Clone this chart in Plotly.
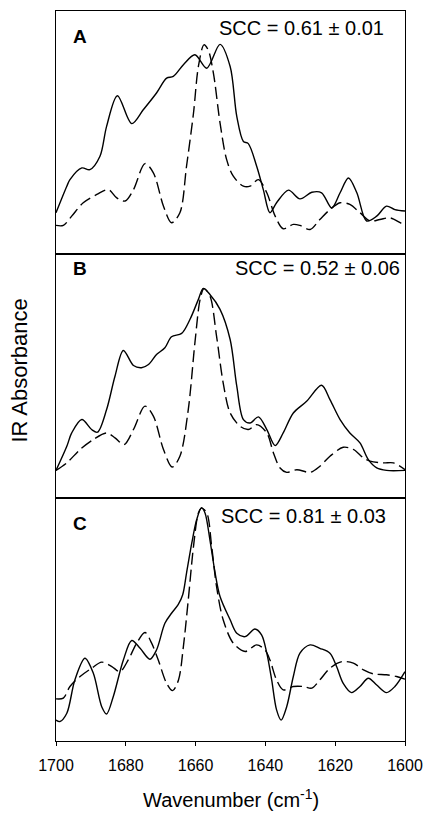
import plotly.graph_objects as go
from plotly.subplots import make_subplots

# ---- data (wavenumber in cm^-1, absorbance normalised per panel) ----
wn_a_solid = [1700.0, 1696.9, 1696.0, 1692.6, 1690.3, 1687.4, 1685.5, 1682.4, 1678.3, 1675.0, 1671.2, 1668.3, 1666.4,
              1663.5, 1660.2, 1656.8, 1653.0, 1650.1, 1648.2, 1646.3, 1644.9, 1642.5, 1640.6, 1638.7, 1636.8, 1633.4,
              1630.1, 1626.7, 1623.9, 1621.0, 1618.6, 1616.2, 1613.8, 1611.0, 1608.1, 1605.3, 1602.9, 1600.0]
abs_a_solid = [0.171, 0.280, 0.307, 0.355, 0.348, 0.403, 0.526, 0.652, 0.537, 0.594, 0.663, 0.724, 0.731, 0.779,
               0.820, 0.765, 0.863, 0.772, 0.567, 0.464, 0.455, 0.362, 0.266, 0.171, 0.212, 0.264, 0.228, 0.255,
               0.253, 0.191, 0.253, 0.314, 0.253, 0.137, 0.157, 0.198, 0.184, 0.178]

wn_a_dash = [1700.0, 1697.9, 1695.5, 1692.2, 1688.3, 1685.0, 1682.6, 1680.2, 1677.8, 1674.5, 1672.1, 1669.2, 1666.9,
             1664.5, 1662.6, 1660.6, 1659.2, 1657.6, 1656.4, 1654.9, 1653.0, 1651.1, 1649.2, 1646.3, 1644.4, 1642.0,
             1639.6, 1637.2, 1634.9, 1632.0, 1630.1, 1627.2, 1624.4, 1621.5, 1618.6, 1615.8, 1612.9, 1610.0, 1607.2,
             1604.3, 1601.4, 1600.0]
abs_a_dash = [0.119, 0.119, 0.157, 0.212, 0.246, 0.266, 0.232, 0.219, 0.266, 0.373, 0.335, 0.198, 0.130, 0.171,
              0.362, 0.581, 0.772, 0.861, 0.840, 0.745, 0.540, 0.389, 0.321, 0.280, 0.280, 0.307, 0.253, 0.157,
              0.105, 0.123, 0.119, 0.102, 0.143, 0.184, 0.212, 0.205, 0.171, 0.137, 0.143, 0.150, 0.130, 0.119]

wn_b_solid = [1700.0, 1696.9, 1695.5, 1692.6, 1689.8, 1688.1, 1685.5, 1683.1, 1680.7, 1677.8, 1675.5, 1673.5, 1671.2,
              1668.8, 1666.9, 1664.0, 1661.6, 1659.2, 1657.8, 1655.9, 1653.0, 1650.1, 1648.2, 1646.3, 1644.4, 1642.0,
              1639.6, 1637.2, 1634.9, 1632.0, 1628.2, 1623.9, 1621.5, 1618.6, 1615.8, 1612.9, 1610.5, 1608.1, 1605.3,
              1600.0]
abs_b_solid = [0.112, 0.211, 0.266, 0.321, 0.280, 0.269, 0.362, 0.499, 0.605, 0.543, 0.534, 0.547, 0.588, 0.616,
               0.661, 0.675, 0.733, 0.815, 0.860, 0.835, 0.774, 0.650, 0.458, 0.321, 0.307, 0.332, 0.280, 0.214,
               0.266, 0.348, 0.396, 0.462, 0.403, 0.321, 0.266, 0.225, 0.156, 0.122, 0.112, 0.112]

wn_b_dash = [1700.0, 1696.9, 1693.1, 1689.3, 1685.5, 1683.1, 1680.5, 1677.8, 1674.5, 1672.1, 1669.2, 1666.7, 1664.5,
             1662.1, 1660.2, 1658.7, 1657.6, 1655.9, 1654.0, 1652.1, 1650.1, 1647.3, 1644.9, 1642.5, 1639.6, 1637.7,
             1635.8, 1633.9, 1631.0, 1627.2, 1624.4, 1621.5, 1617.7, 1614.8, 1611.9, 1610.0, 1606.2, 1603.3, 1600.0]
abs_b_dash = [0.112, 0.143, 0.198, 0.239, 0.266, 0.246, 0.218, 0.280, 0.376, 0.335, 0.198, 0.126, 0.170, 0.362,
              0.636, 0.815, 0.859, 0.829, 0.664, 0.472, 0.348, 0.294, 0.280, 0.300, 0.266, 0.184, 0.122, 0.104,
              0.115, 0.104, 0.129, 0.170, 0.207, 0.198, 0.163, 0.150, 0.143, 0.143, 0.115]

wn_c_solid = [1700.0, 1698.9, 1696.9, 1694.6, 1691.7, 1689.3, 1686.9, 1685.5, 1683.6, 1680.7, 1678.3, 1675.9, 1673.1,
              1671.2, 1668.8, 1666.9, 1665.0, 1663.7, 1662.6, 1661.1, 1659.7, 1658.3, 1657.3, 1655.9, 1654.4, 1653.0,
              1650.1, 1648.2, 1645.8, 1643.0, 1641.1, 1639.6, 1638.2, 1636.8, 1635.5, 1633.9, 1632.0, 1630.1, 1627.2,
              1624.4, 1621.5, 1619.6, 1617.7, 1615.3, 1612.9, 1610.5, 1608.1, 1605.3, 1602.9, 1600.0]
abs_c_solid = [0.086, 0.080, 0.114, 0.251, 0.340, 0.278, 0.141, 0.111, 0.182, 0.333, 0.413, 0.381, 0.336, 0.374,
               0.484, 0.525, 0.560, 0.601, 0.690, 0.813, 0.909, 0.959, 0.937, 0.827, 0.690, 0.594, 0.498, 0.443,
               0.429, 0.460, 0.436, 0.361, 0.251, 0.128, 0.086, 0.141, 0.265, 0.361, 0.395, 0.381, 0.361, 0.306,
               0.237, 0.199, 0.224, 0.258, 0.230, 0.199, 0.224, 0.285]

wn_c_dash = [1700.0, 1697.9, 1696.0, 1693.1, 1689.8, 1686.9, 1684.0, 1681.7, 1679.3, 1676.9, 1674.5, 1672.6, 1670.7,
             1668.3, 1666.6, 1664.9, 1663.5, 1662.1, 1660.6, 1659.2, 1658.3, 1656.8, 1655.4, 1654.0, 1652.1, 1649.2,
             1645.8, 1642.5, 1640.1, 1638.7, 1636.8, 1634.9, 1632.0, 1629.1, 1626.7, 1624.4, 1621.5, 1618.1, 1614.8,
             1611.9, 1609.1, 1605.3, 1602.4, 1600.0]
abs_c_dash = [0.173, 0.176, 0.224, 0.265, 0.299, 0.324, 0.306, 0.285, 0.333, 0.402, 0.446, 0.402, 0.333, 0.237,
              0.207, 0.251, 0.388, 0.580, 0.800, 0.937, 0.957, 0.937, 0.800, 0.635, 0.498, 0.402, 0.368, 0.395,
              0.374, 0.333, 0.251, 0.210, 0.224, 0.224, 0.217, 0.251, 0.299, 0.326, 0.320, 0.292, 0.276, 0.272,
              0.265, 0.254]

panel_labels = ["A", "B", "C"]
scc_labels = ["SCC = 0.61 ± 0.01", "SCC = 0.52 ± 0.06", "SCC = 0.81 ± 0.03"]
x_ticks = [1700, 1680, 1660, 1640, 1620, 1600]

panels = [
    (wn_a_solid, abs_a_solid, wn_a_dash, abs_a_dash),
    (wn_b_solid, abs_b_solid, wn_b_dash, abs_b_dash),
    (wn_c_solid, abs_c_solid, wn_c_dash, abs_c_dash),
]

FONT = "Liberation Sans, Arial, Helvetica, sans-serif"

fig = make_subplots(rows=3, cols=1, shared_xaxes=True, vertical_spacing=0)

for i, (xs, ys, xd, yd) in enumerate(panels, start=1):
    fig.add_trace(go.Scatter(x=xd, y=yd, mode="lines",
                             line=dict(color="black", width=1.4, dash="12px,5px", shape="spline", smoothing=0.9),
                             showlegend=False, hoverinfo="skip"), row=i, col=1)
    fig.add_trace(go.Scatter(x=xs, y=ys, mode="lines",
                             line=dict(color="black", width=1.4, shape="spline", smoothing=0.9),
                             showlegend=False, hoverinfo="skip"), row=i, col=1)
    fig.update_yaxes(range=[0, 1], showticklabels=False, ticks="", showgrid=False, zeroline=False,
                     automargin=False,
                     showline=True, mirror=True, linecolor="black", linewidth=1, row=i, col=1)
    fig.update_xaxes(range=[1700, 1600], showgrid=False, zeroline=False, automargin=False,
                     showline=True, mirror=True, linecolor="black", linewidth=1, row=i, col=1)

fig.update_xaxes(showticklabels=False, ticks="", row=1, col=1)
fig.update_xaxes(showticklabels=False, ticks="", row=2, col=1)
fig.update_xaxes(showticklabels=True, ticks="outside", ticklen=4, tickwidth=1, tickcolor="black",
                 ticklabelstandoff=6,
                 tickmode="array", tickvals=x_ticks, ticktext=[str(t) for t in x_ticks],
                 tickfont=dict(size=16, color="black", family=FONT), row=3, col=1)

# panel letters and SCC labels
label_pos = [(0.069, 0.965), (0.069, 0.6473), (0.069, 0.298)]
scc_pos = [(0.9456, 0.9767), (0.9914, 0.648), (0.951, 0.308)]
annotations = []
for lab, (lx, ly), scc, (sx, sy) in zip(panel_labels, label_pos, scc_labels, scc_pos):
    annotations.append(dict(text=f"<b>{lab}</b>", x=lx, y=ly, xref="paper", yref="paper",
                            xanchor="center", yanchor="middle", showarrow=False,
                            font=dict(size=19, color="black", family=FONT)))
    annotations.append(dict(text=scc, x=sx, y=sy, xref="paper", yref="paper",
                            xanchor="right", yanchor="middle", showarrow=False,
                            font=dict(size=20, color="black", family=FONT)))

annotations.append(dict(text="Wavenumber (cm<sup>-1</sup>)", x=0.5, y=-0.0781, xref="paper", yref="paper",
                        xanchor="center", yanchor="middle", showarrow=False, borderpad=0,
                        font=dict(size=20, color="black", family=FONT)))
annotations.append(dict(text="IR Absorbance", x=-0.104, y=0.507, xref="paper", yref="paper",
                        xanchor="center", yanchor="middle", textangle=-90, showarrow=False,
                        font=dict(size=22, color="black", family=FONT)))

fig.update_layout(width=426, height=813, margin=dict(l=56, r=21, t=11, b=72, autoexpand=False),
                  paper_bgcolor="white", plot_bgcolor="white",
                  font=dict(family=FONT, color="black"), annotations=annotations)

fig.write_html("out.html", config={"displayModeBar": False},
               post_script="document.body.style.margin='0';document.body.style.overflow='hidden';")
